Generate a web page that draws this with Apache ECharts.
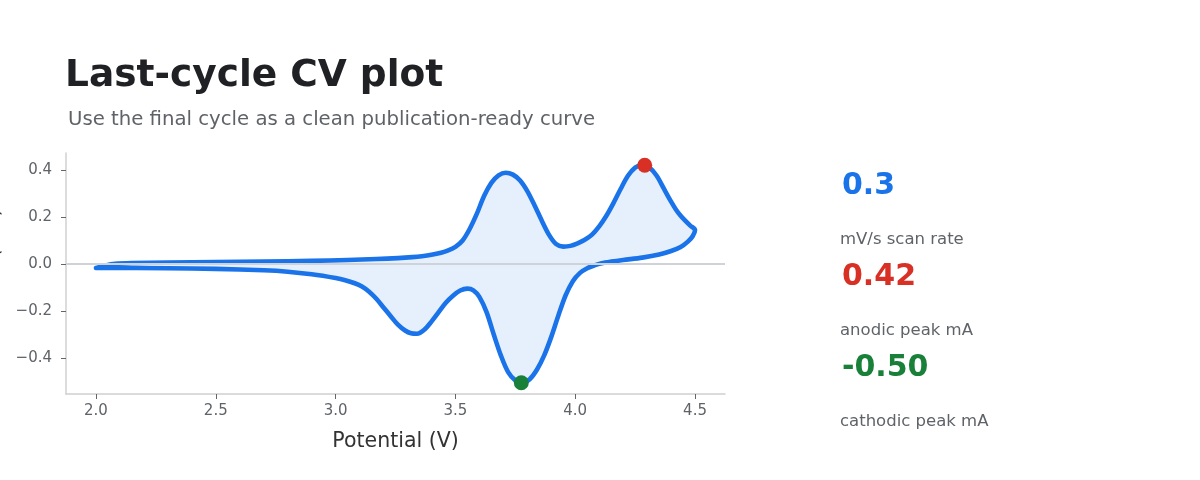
<!DOCTYPE html>
<html>
<head>
<meta charset="utf-8">
<script src="https://cdn.jsdelivr.net/npm/echarts@6/dist/echarts.min.js"></script>
<style>
html,body{margin:0;padding:0;background:#fff;}
#c{width:1200px;height:480px;}
</style>
</head>
<body>
<div id="c"></div>
<script>
// Forward (anodic) scan, 2.0 -> 4.5 V
var forwardPotential = [2.0, 2.04, 2.08, 2.15, 2.3, 2.5, 2.7, 2.9, 3.05, 3.17, 3.26, 3.32, 3.36, 3.40, 3.44, 3.47, 3.50, 3.53, 3.56, 3.59, 3.62, 3.65, 3.68, 3.71, 3.74, 3.77, 3.80, 3.83, 3.86, 3.89, 3.92, 3.95, 3.98, 4.01, 4.04, 4.07, 4.10, 4.13, 4.16, 4.19, 4.22, 4.25, 4.28, 4.31, 4.34, 4.37, 4.40, 4.42, 4.44, 4.46, 4.48, 4.5];
var forwardCurrent   = [-0.017, -0.006, 0.001, 0.004, 0.006, 0.008, 0.010, 0.013, 0.017, 0.021, 0.025, 0.029, 0.033, 0.039, 0.048, 0.058, 0.073, 0.10, 0.15, 0.215, 0.29, 0.345, 0.377, 0.388, 0.38, 0.355, 0.31, 0.25, 0.185, 0.125, 0.085, 0.074, 0.077, 0.088, 0.103, 0.125, 0.16, 0.205, 0.26, 0.32, 0.375, 0.41, 0.421, 0.41, 0.375, 0.32, 0.265, 0.232, 0.205, 0.183, 0.163, 0.145];
// Reverse (cathodic) scan, 4.5 -> 2.0 V
var reversePotential = [4.5, 4.49, 4.47, 4.44, 4.40, 4.35, 4.28, 4.2, 4.15, 4.11, 4.08, 4.05, 4.02, 3.99, 3.96, 3.93, 3.90, 3.87, 3.84, 3.81, 3.78, 3.75, 3.72, 3.69, 3.66, 3.63, 3.60, 3.575, 3.55, 3.52, 3.49, 3.46, 3.43, 3.40, 3.37, 3.34, 3.315, 3.29, 3.26, 3.23, 3.20, 3.17, 3.14, 3.11, 3.08, 3.04, 3.0, 2.9, 2.8, 2.7, 2.5, 2.3, 2.0];
var reverseCurrent   = [0.13, 0.118, 0.095, 0.072, 0.055, 0.04, 0.027, 0.017, 0.01, 0.003, -0.006, -0.018, -0.038, -0.073, -0.133, -0.218, -0.31, -0.39, -0.45, -0.49, -0.505, -0.495, -0.46, -0.39, -0.30, -0.205, -0.14, -0.112, -0.105, -0.113, -0.135, -0.165, -0.205, -0.245, -0.28, -0.297, -0.295, -0.283, -0.258, -0.222, -0.185, -0.148, -0.118, -0.096, -0.082, -0.069, -0.06, -0.044, -0.033, -0.027, -0.021, -0.018, -0.017];
// Peaks
var anodicPeak = [4.29, 0.42];
var cathodicPeak = [3.775, -0.505];
// Axis ticks
var xTicks = [2.0, 2.5, 3.0, 3.5, 4.0, 4.5];
var yTicks = [-0.4, -0.2, 0.0, 0.2, 0.4];
// KPI texts
var kpiValues = ['0.3', '0.42', '-0.50'];
var kpiLabels = ['mV/s scan rate', 'anodic peak mA', 'cathodic peak mA'];
var kpiColors = ['#1a73e8', '#d93025', '#188038'];

var loop = [];
for (var i = 0; i < forwardPotential.length; i++) loop.push([forwardPotential[i], forwardCurrent[i]]);
for (var j = 1; j < reversePotential.length; j++) loop.push([reversePotential[j], reverseCurrent[j]]);

var FONT = 'DejaVu Sans';
var chart = echarts.init(document.getElementById('c'), null, {renderer: 'canvas'});

var graphics = [
  {type: 'text', left: 65, top: 57, style: {text: 'Last-cycle CV plot', font: 'bold 37.5px "DejaVu Sans"', fill: '#202124'}},
  {type: 'text', left: 68, top: 110, style: {text: 'Use the final cycle as a clean publication-ready curve', font: '19.7px "DejaVu Sans"', fill: '#5f6368'}},
  {type: 'text', x: -6.5, y: 273.5, rotation: Math.PI / 2, style: {text: 'Current (mA)', font: '20px "DejaVu Sans"', fill: '#333333', align: 'center', verticalAlign: 'middle'}}
];
var kpiValueY = [186.5, 277.5, 368];
var kpiLabelY = [239.5, 330.5, 421.5];
for (var k = 0; k < kpiValues.length; k++) {
  graphics.push({type: 'text', x: 842, y: kpiValueY[k], style: {text: kpiValues[k], font: 'bold 30px "DejaVu Sans"', fill: kpiColors[k], verticalAlign: 'middle'}});
  graphics.push({type: 'text', x: 840, y: kpiLabelY[k], style: {text: kpiLabels[k], font: '16.5px "DejaVu Sans"', fill: '#5f6368', verticalAlign: 'middle'}});
}

function fmt(v) {
  var s = Math.abs(v).toFixed(1);
  return v < -1e-9 ? '\u2212' + s : s;
}

chart.setOption({
  animation: false,
  backgroundColor: '#ffffff',
  textStyle: {fontFamily: FONT},
  grid: {left: 66, right: 475, top: 153, bottom: 86},
  xAxis: {
    type: 'value', min: 1.875, max: 4.625,
    name: 'Potential (V)', nameLocation: 'middle', nameGap: 37,
    nameTextStyle: {fontSize: 20.5, color: '#333333', fontFamily: FONT},
    axisLine: {show: true, onZero: false, lineStyle: {color: '#d0d0d0', width: 1.5}},
    axisTick: {show: true, length: 5, customValues: xTicks, lineStyle: {color: '#666666', width: 1}},
    axisLabel: {customValues: xTicks, margin: 10, fontSize: 15, color: '#5f6368', fontFamily: FONT, formatter: fmt},
    splitLine: {show: false}
  },
  yAxis: {
    type: 'value', min: -0.553, max: 0.472,
    axisLine: {show: true, onZero: false, lineStyle: {color: '#d0d0d0', width: 1.5}},
    axisTick: {show: true, length: 5, customValues: yTicks, lineStyle: {color: '#666666', width: 1}},
    axisLabel: {customValues: yTicks, margin: 14, fontSize: 15, color: '#5f6368', fontFamily: FONT, formatter: fmt},
    splitLine: {show: false}
  },
  graphic: graphics,
  series: [
    {
      type: 'custom', z: 1, silent: true,
      data: [0],
      renderItem: function (params, api) {
        var pts = loop.map(function (p) { return api.coord(p); });
        return {type: 'polygon', shape: {points: pts, smooth: 0.3}, style: {fill: 'rgba(26,115,232,0.11)', stroke: null}};
      },
      markLine: {
        silent: true, symbol: 'none', label: {show: false},
        lineStyle: {color: '#cfd3d8', width: 2, type: 'solid'},
        data: [{yAxis: 0}]
      }
    },
    {
      type: 'line', z: 2, data: loop, showSymbol: false, smooth: 0.3,
      lineStyle: {color: '#1a73e8', width: 4.6, cap: 'round', join: 'round'},
      silent: true
    },
    {
      type: 'scatter', z: 3, symbolSize: 15,
      itemStyle: {opacity: 1},
      data: [{value: anodicPeak, itemStyle: {color: '#d93025', opacity: 1}}, {value: cathodicPeak, itemStyle: {color: '#188038', opacity: 1}}]
    }
  ]
});
</script>
</body>
</html>
